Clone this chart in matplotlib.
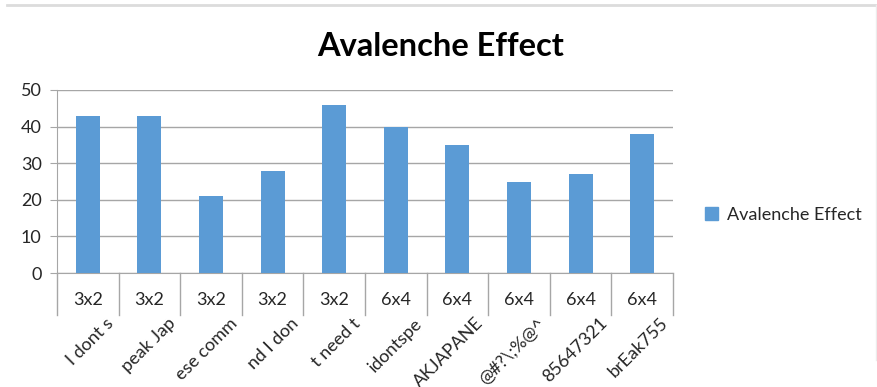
import matplotlib
matplotlib.use("Agg")
import matplotlib.pyplot as plt
import matplotlib.transforms as mtransforms
from matplotlib.lines import Line2D
import numpy as np

plt.rcParams['font.family'] = ['Lato', 'DejaVu Sans']

categories = ["I dont s", "peak Jap", "ese comm", "nd I don", "t need t",
              "idontspe", "AKJAPANE", "@#?\\;%@^", "85647321", "brEak755"]
groups = ["3x2", "3x2", "3x2", "3x2", "3x2", "6x4", "6x4", "6x4", "6x4", "6x4"]
values = [43, 43, 21, 28, 46, 40, 35, 25, 27, 38]
series_name = "Avalenche Effect"
title = "Avalenche Effect"
yticks = [0, 10, 20, 30, 40, 50]

bar_color = "#5b9bd5"
grid_color = "#a6a6a6"

fig = plt.figure(figsize=(8.78, 3.87), dpi=100)
ax = fig.add_axes([57/878, 1-273/387, (673-57)/878, (273-90)/387])

x = np.arange(len(categories))
ax.bar(x, values, width=0.39, color=bar_color, zorder=3, label=series_name)
ax.set_xlim(-0.5, len(categories)-0.5)
ax.set_ylim(0, 50)
ax.set_yticks(yticks)
ax.set_yticklabels([str(t) for t in yticks], fontsize=13, color="#262626")
ax.yaxis.grid(True, color=grid_color, linewidth=1.0, zorder=0)
ax.tick_params(axis='y', length=5, color=grid_color, pad=6)
ax.set_xticks([])
for s in ['top', 'right']:
    ax.spines[s].set_visible(False)
ax.spines['left'].set_color(grid_color)
ax.spines['bottom'].set_color(grid_color)

trans = mtransforms.blended_transform_factory(ax.transData, ax.transAxes)
sep_bottom = -(315-273)/183
for b in np.arange(-0.5, len(categories), 1.0):
    ax.add_line(Line2D([b, b], [0, sep_bottom], transform=trans, color=grid_color,
                       linewidth=1.0, clip_on=False))

for xi, g in zip(x, groups):
    ax.text(xi, -(300-273)/183, g, transform=trans, ha='center', va='center',
            fontsize=13, color="#262626")

offset = mtransforms.ScaledTranslation(18/100, 0, fig.dpi_scale_trans)
for xi, c in zip(x, categories):
    ax.text(xi, -(315-273)/183, c, transform=trans + offset, ha='right', va='top',
            rotation=45, rotation_mode='anchor', fontsize=13, color="#262626")

fig.text(0.502, 1-47/387, title, ha='center', va='center', fontsize=23.5,
         fontweight='bold', color='black')

leg = fig.legend(handles=[plt.Rectangle((0, 0), 1, 1, color=bar_color)],
                 labels=[series_name], loc='center left',
                 bbox_to_anchor=(689/878, 1-215/387), frameon=False,
                 fontsize=13, handlelength=0.7, handleheight=0.7,
                 handletextpad=0.5)
for t in leg.get_texts():
    t.set_color("#262626")

fig.add_artist(Line2D([7/878, 1.0], [1-5/387, 1-5/387], transform=fig.transFigure,
                      color="#dcdcdc", linewidth=2))
fig.add_artist(Line2D([876/878, 876/878], [1-360/387, 1-5/387], transform=fig.transFigure,
                      color="#ececec", linewidth=1))

fig.savefig("out.png", dpi=100)
